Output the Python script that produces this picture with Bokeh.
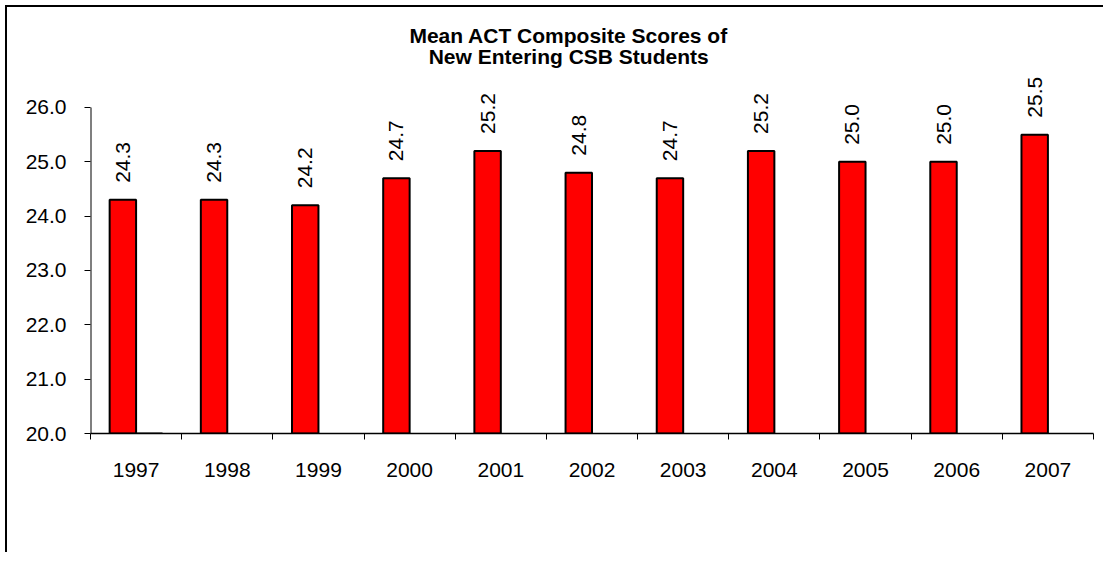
from bokeh.plotting import figure
from bokeh.models import Range1d, FixedTicker, NumeralTickFormatter, Label, ColumnDataSource
from bokeh.embed import file_html
from bokeh.resources import INLINE
from bokeh.core.properties import value
import math

years = ["1997", "1998", "1999", "2000", "2001", "2002", "2003", "2004", "2005", "2006", "2007"]
scores = [24.3, 24.3, 24.2, 24.7, 25.2, 24.8, 24.7, 25.2, 25.0, 25.0, 25.5]
series2 = [20.0, None, None, None, None, None, None, None, None, None, None]
score_labels = ["%.1f" % s for s in scores]
y_ticks = [20, 21, 22, 23, 24, 25, 26]
title_lines = ["Mean ACT Composite Scores of", "New Entering CSB Students"]

FONT = "Liberation Sans"
n = len(years)
bw = 0.29
centers = [i + 0.5 for i in range(n)]

p = figure(width=1098, height=547, output_backend="svg", toolbar_location=None,
           x_range=Range1d(0, n), y_range=Range1d(20, 27.73),
           min_border_left=83, min_border_top=6, min_border_right=12, min_border_bottom=121,
           background_fill_color="white", border_fill_color="white")
p.outline_line_color = None
p.xgrid.visible = False
p.ygrid.visible = False
p.styles = {"border-left": "2px solid black", "border-top": "2px solid black",
            "margin-left": "5px", "margin-top": "5px"}

src = ColumnDataSource(dict(
    left=[c - bw for c in centers], right=centers, top=scores,
    bottom=[20] * n, lab=score_labels, lx=[c - bw / 2 for c in centers]))
p.quad(left="left", right="right", top="top", bottom="bottom", source=src,
       fill_color="#FF0000", line_color="black", line_width=2)

s2x = [c for c, v in zip(centers, series2) if v is not None]
s2v = [v for v in series2 if v is not None]
p.quad(left=s2x, right=[c + bw for c in s2x], top=s2v, bottom=[20] * len(s2v),
       fill_color="black", line_color="black", line_width=2)

p.text(x="lx", y="top", text="lab", source=src, angle=math.pi / 2,
       text_align="left", text_baseline="middle", y_offset=-17,
       text_font=value(FONT), text_font_size="21px", text_color="black")

# y axis line only over the tick span
p.segment(x0=[0], y0=[min(y_ticks)], x1=[0], y1=[max(y_ticks)], line_color="black", line_width=2)

p.add_layout(Label(x=5.244, y=27.33, text=title_lines[0], text_align="center",
                   text_baseline="middle", text_font=FONT, text_font_size="21px",
                   text_font_style="bold", text_color="black"))
p.add_layout(Label(x=5.244, y=26.93, text=title_lines[1], text_align="center",
                   text_baseline="middle", text_font=FONT, text_font_size="21px",
                   text_font_style="bold", text_color="black"))

xa = p.xaxis[0]
xa.ticker = FixedTicker(ticks=centers, minor_ticks=list(range(n + 1)))
xa.major_label_overrides = {c: y for c, y in zip(centers, years)}
xa.major_tick_line_color = None
xa.major_tick_out = 0
xa.major_tick_in = 0
xa.minor_tick_out = 6
xa.minor_tick_in = 0
xa.minor_tick_line_color = "black"
xa.axis_line_color = "black"
xa.axis_line_width = 1.5
xa.major_label_standoff = 23
xa.major_label_text_font = FONT
xa.major_label_text_font_size = "21px"
xa.major_label_text_color = "black"

ya = p.yaxis[0]
ya.ticker = FixedTicker(ticks=y_ticks, minor_ticks=[])
ya.formatter = NumeralTickFormatter(format="0.0")
ya.major_tick_out = 6
ya.major_tick_in = 0
ya.major_tick_line_color = "black"
ya.minor_tick_line_color = None
ya.axis_line_color = None
ya.major_label_standoff = 18
ya.major_label_text_font = FONT
ya.major_label_text_font_size = "21px"
ya.major_label_text_color = "black"

open("out.html", "w").write(file_html(p, INLINE))
